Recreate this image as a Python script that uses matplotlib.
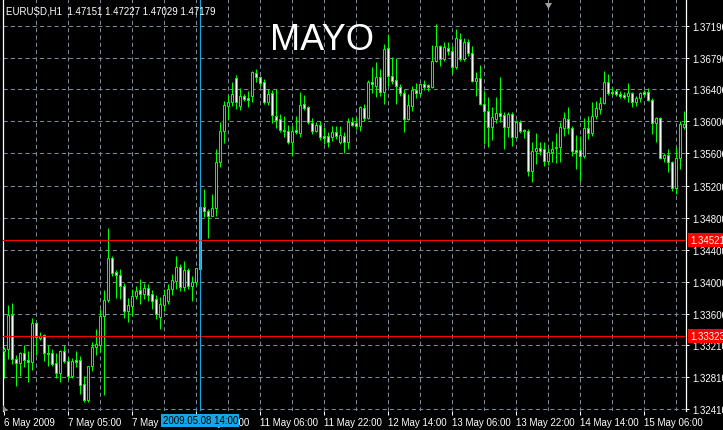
import matplotlib
matplotlib.use("Agg")
import matplotlib.pyplot as plt
import matplotlib.transforms as mtransforms
from matplotlib.patches import Rectangle, Polygon

plt.rcParams['font.family'] = ['Liberation Sans', 'DejaVu Sans']

symbol_info = "EURUSD,H1  1.47151 1.47227 1.47029 1.47179"
title_text = "MAYO"

# hourly bars, 6 May 2009 13:00 -> 15 May 2009
opens = [
    1.33135, 1.33160, 1.33584, 1.33035, 1.32985, 1.33110, 1.33023, 1.32998, 1.33484, 1.33297,
    1.33335, 1.33110, 1.33110, 1.32985, 1.32860, 1.33135, 1.33010, 1.32823, 1.33023, 1.33023,
    1.32723, 1.32523, 1.32948, 1.33185, 1.33210, 1.33572, 1.33772, 1.34296, 1.34121, 1.34084,
    1.33946, 1.33634, 1.33697, 1.33821, 1.33896, 1.33846, 1.33921, 1.33846, 1.33784, 1.33559,
    1.33709, 1.33759, 1.33909, 1.34009, 1.34183, 1.33934, 1.34146, 1.33946, 1.33996, 1.34158,
    1.34932, 1.34882, 1.34820, 1.34920, 1.35494, 1.35881, 1.36193, 1.36243, 1.36542, 1.36193,
    1.36317, 1.36292, 1.36317, 1.36604, 1.36555, 1.36492, 1.36243, 1.36355, 1.36068, 1.36030,
    1.35893, 1.35881, 1.35743, 1.35893, 1.35856, 1.36218, 1.36180, 1.35980, 1.35881, 1.35955,
    1.35818, 1.35818, 1.35806, 1.35868, 1.35743, 1.35818, 1.35743, 1.35993, 1.35980, 1.35943,
    1.36168, 1.36043, 1.36492, 1.36442, 1.36555, 1.36367, 1.36916, 1.36567, 1.36517, 1.36430,
    1.36355, 1.36030, 1.36193, 1.36392, 1.36355, 1.36467, 1.36455, 1.36430, 1.36754, 1.36941,
    1.36779, 1.36916, 1.36879, 1.36679, 1.37029, 1.36779, 1.36991, 1.36854, 1.36505, 1.36542,
    1.36218, 1.36130, 1.35930, 1.36030, 1.36105, 1.36080, 1.35930, 1.36093, 1.35806, 1.35993,
    1.35893, 1.35881, 1.35381, 1.35631, 1.35668, 1.35656, 1.35506, 1.35619, 1.35668, 1.35681,
    1.35918, 1.36030, 1.35918, 1.35643, 1.35643, 1.35569, 1.35918, 1.35856, 1.36068, 1.36155,
    1.36230, 1.36492, 1.36367, 1.36380, 1.36342, 1.36330, 1.36317, 1.36355, 1.36243, 1.36292,
    1.36367, 1.36367, 1.36268, 1.35980, 1.36043, 1.35544, 1.35581, 1.35494, 1.35169, 1.35544,
    1.35930]
highs = [
    1.33185, 1.33709, 1.33734, 1.33085, 1.33123, 1.33210, 1.33135, 1.33547, 1.33497, 1.33372,
    1.33347, 1.33210, 1.33160, 1.33110, 1.33148, 1.33210, 1.33060, 1.33048, 1.33135, 1.33073,
    1.32823, 1.32948, 1.33247, 1.33410, 1.33659, 1.33896, 1.34670, 1.34321, 1.34146, 1.34158,
    1.33984, 1.33796, 1.33909, 1.33946, 1.34034, 1.33984, 1.33971, 1.33896, 1.33834, 1.33809,
    1.33909, 1.33971, 1.34096, 1.34321, 1.34221, 1.34258, 1.34171, 1.34071, 1.34171, 1.34932,
    1.35157, 1.34907, 1.35094, 1.35656, 1.35993, 1.36255, 1.36330, 1.36492, 1.36580, 1.36417,
    1.36342, 1.36380, 1.36629, 1.36654, 1.36567, 1.36530, 1.36405, 1.36392, 1.36405, 1.36093,
    1.36068, 1.35955, 1.35943, 1.36068, 1.36367, 1.36330, 1.36193, 1.36043, 1.35993, 1.36005,
    1.35930, 1.35868, 1.35943, 1.35943, 1.35943, 1.35868, 1.36043, 1.36055, 1.36055, 1.36193,
    1.36218, 1.36517, 1.36679, 1.36742, 1.36654, 1.36966, 1.37091, 1.36804, 1.36792, 1.36467,
    1.36405, 1.36342, 1.36442, 1.36480, 1.36480, 1.36517, 1.36467, 1.36954, 1.37216, 1.36954,
    1.36991, 1.36991, 1.36941, 1.37154, 1.37104, 1.37041, 1.37029, 1.36941, 1.36617, 1.36704,
    1.36380, 1.36305, 1.36180, 1.36305, 1.36555, 1.36118, 1.36118, 1.36118, 1.36018, 1.36018,
    1.35906, 1.35906, 1.35743, 1.35856, 1.35743, 1.35743, 1.35668, 1.35756, 1.35856, 1.35993,
    1.36118, 1.36180, 1.35943, 1.35831, 1.35818, 1.36043, 1.36068, 1.36243, 1.36255, 1.36305,
    1.36629, 1.36592, 1.36430, 1.36405, 1.36380, 1.36367, 1.36480, 1.36367, 1.36317, 1.36367,
    1.36392, 1.36417, 1.36292, 1.36055, 1.36055, 1.35606, 1.35656, 1.35506, 1.35681, 1.36005,
    1.36130]
lows = [
    1.32798, 1.33035, 1.32973, 1.32698, 1.32823, 1.32935, 1.32748, 1.32898, 1.33085, 1.33272,
    1.33010, 1.32948, 1.32948, 1.32798, 1.32748, 1.32985, 1.32786, 1.32798, 1.32935, 1.32598,
    1.32498, 1.32498, 1.32885, 1.33085, 1.33123, 1.32586, 1.33747, 1.34071, 1.33796, 1.33784,
    1.33547, 1.33497, 1.33572, 1.33784, 1.33722, 1.33784, 1.33759, 1.33659, 1.33534, 1.33410,
    1.33634, 1.33722, 1.33834, 1.33909, 1.33884, 1.33884, 1.33909, 1.33759, 1.33959, 1.34133,
    1.34807, 1.34545, 1.34820, 1.34820, 1.35431, 1.35731, 1.36018, 1.36193, 1.36155, 1.36143,
    1.36255, 1.36180, 1.36243, 1.36492, 1.36442, 1.36218, 1.36205, 1.35980, 1.35918, 1.35868,
    1.35806, 1.35718, 1.35569, 1.35843, 1.35806, 1.36143, 1.35968, 1.35843, 1.35868, 1.35768,
    1.35718, 1.35681, 1.35756, 1.35781, 1.35718, 1.35606, 1.35656, 1.35943, 1.35906, 1.35881,
    1.36005, 1.36030, 1.36355, 1.36305, 1.36317, 1.36218, 1.36442, 1.36467, 1.36218, 1.36317,
    1.35868, 1.36018, 1.36130, 1.36292, 1.36317, 1.36392, 1.36380, 1.36417, 1.36742, 1.36692,
    1.36754, 1.36829, 1.36604, 1.36654, 1.36754, 1.36754, 1.36817, 1.36492, 1.36317, 1.36205,
    1.35718, 1.35681, 1.35768, 1.35980, 1.35993, 1.35656, 1.35806, 1.35693, 1.35793, 1.35856,
    1.35793, 1.35319, 1.35244, 1.35469, 1.35581, 1.35444, 1.35456, 1.35494, 1.35481, 1.35494,
    1.35818, 1.35843, 1.35569, 1.35406, 1.35257, 1.35544, 1.35781, 1.35818, 1.36030, 1.36093,
    1.36218, 1.36330, 1.36330, 1.36317, 1.36292, 1.36280, 1.36243, 1.36180, 1.36193, 1.36243,
    1.36317, 1.36255, 1.35843, 1.35743, 1.35531, 1.35494, 1.35369, 1.35132, 1.35094, 1.35406,
    1.35906]
closes = [
    1.33160, 1.33584, 1.33035, 1.32985, 1.33110, 1.33023, 1.32998, 1.33484, 1.33310, 1.33322,
    1.33110, 1.33098, 1.32973, 1.32860, 1.33135, 1.33010, 1.32823, 1.33010, 1.32998, 1.32711,
    1.32523, 1.32948, 1.33185, 1.33222, 1.33572, 1.33772, 1.34296, 1.34108, 1.34084, 1.33946,
    1.33634, 1.33709, 1.33821, 1.33884, 1.33846, 1.33921, 1.33834, 1.33759, 1.33597, 1.33722,
    1.33834, 1.33909, 1.34021, 1.34183, 1.33934, 1.34146, 1.33946, 1.33996, 1.34171, 1.34932,
    1.34882, 1.34820, 1.34920, 1.35494, 1.35881, 1.36205, 1.36243, 1.36342, 1.36243, 1.36317,
    1.36280, 1.36268, 1.36617, 1.36555, 1.36480, 1.36243, 1.36342, 1.36080, 1.36018, 1.35893,
    1.35881, 1.35743, 1.35881, 1.35868, 1.36205, 1.36168, 1.35993, 1.35881, 1.35955, 1.35806,
    1.35793, 1.35743, 1.35868, 1.35818, 1.35831, 1.35743, 1.35993, 1.35955, 1.35943, 1.36180,
    1.36043, 1.36492, 1.36467, 1.36555, 1.36367, 1.36904, 1.36567, 1.36505, 1.36442, 1.36355,
    1.36030, 1.36205, 1.36392, 1.36355, 1.36467, 1.36430, 1.36430, 1.36754, 1.36941, 1.36779,
    1.36929, 1.36879, 1.36679, 1.37041, 1.36779, 1.36991, 1.36854, 1.36505, 1.36542, 1.36218,
    1.36130, 1.35930, 1.36055, 1.36105, 1.36068, 1.35930, 1.36093, 1.35806, 1.35993, 1.35881,
    1.35881, 1.35381, 1.35631, 1.35669, 1.35631, 1.35506, 1.35619, 1.35656, 1.35681, 1.35930,
    1.36043, 1.35918, 1.35631, 1.35619, 1.35569, 1.35918, 1.35856, 1.36068, 1.36168, 1.36230,
    1.36492, 1.36355, 1.36355, 1.36342, 1.36317, 1.36305, 1.36355, 1.36243, 1.36292, 1.36355,
    1.36342, 1.36268, 1.35980, 1.36043, 1.35544, 1.35581, 1.35494, 1.35169, 1.35544, 1.35968,
    1.35968]

price_ticks = [1.37190, 1.36790, 1.36400, 1.36000, 1.35600, 1.35200, 1.34800,
               1.34400, 1.34000, 1.33600, 1.33210, 1.32810, 1.32410]
price_labels = ["1.37190", "1.36790", "1.36400", "1.36000", "1.35600", "1.35200", "1.34800",
                "1.34400", "1.34000", "1.33600", "1.33210", "1.32810", "1.32410"]
time_tick_bars = [0, 16, 32, 48, 64, 80, 96, 112, 128, 144, 160]
time_labels = ["6 May 2009", "7 May 05:00", "7 May 21:00", "8 May 13:00", "11 May 06:00",
               "11 May 22:00", "12 May 14:00", "13 May 06:00", "13 May 22:00",
               "14 May 14:00", "15 May 06:00"]
hline_levels = [1.34521, 1.33323]
hline_labels = ["1.34521", "1.33323"]
cursor_bar = 49
cursor_label = "2009.05.08 14:00"

n = len(opens)
assert len(highs) == n and len(lows) == n and len(closes) == n

GREEN = '#00ff00'
GRID = '#7a8898'
CYAN = '#12a8e6'

fig = plt.figure(figsize=(7.23, 4.31), dpi=100, facecolor='black')
ax = fig.add_axes([3/723, 19/431, 683/723, 412/431], facecolor='black')
ax.set_xlim(-0.325, 170.425)
ax.set_ylim(1.32386, 1.37528)

# dashed grid
for p in price_ticks:
    ax.axhline(p, color=GRID, lw=0.75, ls=(0, (4, 3)), zorder=1)
for b in range(8, n, 8):
    ax.axvline(b, color=GRID, lw=0.75, ls=(0, (4, 3)), zorder=1)

# candles
ax.vlines(range(n), lows, highs, color=GREEN, lw=0.75, zorder=2)
for i in range(n):
    o, c = opens[i], closes[i]
    lo, hi = min(o, c), max(o, c)
    face = 'black' if c > o else 'white'
    edge = GREEN
    if i == cursor_bar:
        face = '#3cc8c4'
        edge = '#3cc8c4'
    ax.add_patch(Rectangle((i - 0.25, lo), 0.5, hi - lo, facecolor=face,
                           edgecolor=edge, lw=0.75, zorder=3))

# horizontal lines and vertical cursor line
for lv in hline_levels:
    ax.axhline(lv, color='red', lw=0.8, zorder=4)
ax.axvline(cursor_bar, color=CYAN, lw=0.8, zorder=4)

# axes look
for s in ['top', 'bottom']:
    ax.spines[s].set_visible(False)
ax.spines['right'].set_color('white')
ax.spines['right'].set_linewidth(0.9)
ax.spines['left'].set_color('white')
ax.spines['left'].set_linewidth(0.9)

ax.yaxis.tick_right()
ax.set_yticks(price_ticks)
ax.set_yticklabels(price_labels)
ax.tick_params(axis='y', colors='white', length=2.5, width=0.75, labelsize=7, pad=2)

ax.set_xticks(time_tick_bars)
ax.set_xticklabels(time_labels)
for lbl in ax.get_xticklabels():
    lbl.set_ha('left')
ax.tick_params(axis='x', colors='white', length=3, width=0.75, labelsize=7, pad=1)

# price labels for horizontal lines
tr = mtransforms.blended_transform_factory(ax.transAxes, ax.transData)
for lv, lab in zip(hline_levels, hline_labels):
    ax.text(1.0 + 4/683, lv, lab, transform=tr, ha='left', va='center', color='white',
            fontsize=7, zorder=10, clip_on=False,
            bbox=dict(boxstyle='square,pad=0.18', fc='red', ec='none'))

# time label for the cursor line
tr2 = mtransforms.blended_transform_factory(ax.transData, ax.transAxes)
ax.text(cursor_bar, -0.023, cursor_label, transform=tr2, ha='center', va='center',
        color='black', fontsize=7, zorder=10, clip_on=False,
        bbox=dict(boxstyle='square,pad=0.15', fc=CYAN, ec='none'))

# header and title
fig.text(6/723, 1 - 12/431, symbol_info, color='white', fontsize=7, va='center', ha='left')
fig.text(270/723, 1 - 40/431, title_text, color='white', fontsize=26, va='center', ha='left')

# small gray markers (chart shift / scroll)
fig.add_artist(Polygon([[545/723, 1 - 4/431], [552/723, 1 - 4/431], [548.5/723, 1 - 10/431]],
                       closed=True, transform=fig.transFigure, fc='#a0a0a0', ec='none'))
fig.add_artist(Polygon([[3/723, 1 - 412/431], [8/723, 1 - 412/431], [3/723, 1 - 406/431]],
                       closed=True, transform=fig.transFigure, fc='#909090', ec='none'))

fig.savefig('out.png', dpi=100, facecolor='black')
